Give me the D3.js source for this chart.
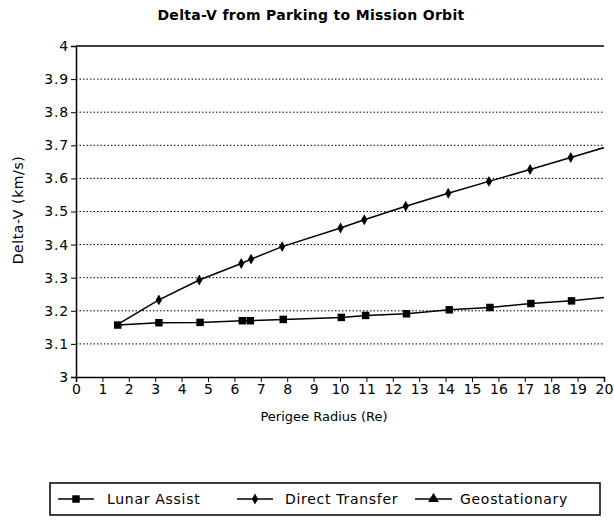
<!DOCTYPE html>
<html>
<head>
<meta charset="UTF-8">
<title>Delta-V</title>
<style>
  body { margin: 0; background: #fff; }
  text { font-family: "DejaVu Sans", Arial, sans-serif; fill: #000; }
</style>
</head>
<body>
<script src="https://d3js.org/d3.v7.min.js"></script>
<script>
// perigee radius (Re) and delta-v (km/s)
var lunarX = [1.58, 3.14, 4.7, 6.3, 6.6, 7.85, 10.05, 10.97, 12.52, 14.14, 15.68, 17.23, 18.77, 20.3];
var lunarY = [3.157, 3.164, 3.165, 3.170, 3.170, 3.174, 3.180, 3.186, 3.191, 3.203, 3.210, 3.222, 3.230, 3.243];
var directX = [1.58, 3.14, 4.67, 6.26, 6.63, 7.81, 10.02, 10.92, 12.49, 14.1, 15.64, 17.2, 18.74, 20.3];
var directY = [3.159, 3.233, 3.293, 3.343, 3.356, 3.394, 3.450, 3.475, 3.516, 3.555, 3.591, 3.627, 3.663, 3.700];
var markLast = 13; // last index drawn with a marker (the last point is off the axis)
var xTicks = d3.range(0, 21);
var yTicks = [3, 3.1, 3.2, 3.3, 3.4, 3.5, 3.6, 3.7, 3.8, 3.9, 4];
var legendNames = ["Lunar Assist", "Direct Transfer", "Geostationary"];

var W = 614, H = 521;
var svg = d3.select("body").append("svg").attr("width", W).attr("height", H);

var x = d3.scaleLinear().domain([0, 20]).range([76, 604]);
var y = d3.scaleLinear().domain([3, 4]).range([377, 46]);

svg.append("defs").append("clipPath").attr("id", "plot")
  .append("rect").attr("x", 76).attr("y", 40).attr("width", 528).attr("height", 340);

// title
svg.append("text").attr("x", 311).attr("y", 20).attr("text-anchor", "middle")
  .style("font-size", "14px").style("font-weight", "bold").style("letter-spacing", "0.3px")
  .text("Delta-V from Parking to Mission Orbit");

// gridlines
svg.append("g").selectAll("line")
  .data(yTicks.filter(function (d) { return d > 3 && d < 4; }))
  .enter().append("line")
  .attr("x1", x(0)).attr("x2", x(20))
  .attr("y1", function (d) { return y(d); }).attr("y2", function (d) { return y(d); })
  .attr("stroke", "#000").attr("stroke-width", 1).attr("stroke-dasharray", "1.5,2");

// top line
svg.append("line").attr("x1", x(0)).attr("x2", x(20)).attr("y1", y(4)).attr("y2", y(4))
  .attr("stroke", "#000").attr("stroke-width", 1.5);

// axes
var yAxis = d3.axisLeft(y).tickValues(yTicks).tickSize(5).tickPadding(2)
  .tickFormat(function (d) { return d === 3 || d === 4 ? d3.format("d")(d) : d3.format(".1f")(d); });
var gy = svg.append("g").attr("transform", "translate(" + x(0) + ",0)").call(yAxis);
var xAxis = d3.axisBottom(x).tickValues(xTicks).tickSize(5).tickPadding(2);
var gx = svg.append("g").attr("transform", "translate(0," + y(3) + ")").call(xAxis);
[gx, gy].forEach(function (g) {
  g.select(".domain").attr("stroke-width", 1.5);
  g.selectAll("text").style("font-size", "14px").style("font-family", "DejaVu Sans, Arial, sans-serif");
});
gy.selectAll("text").style("letter-spacing", "0.8px");

svg.append("text").attr("x", 324).attr("y", 421).attr("text-anchor", "middle")
  .style("font-size", "13px").text("Perigee Radius (Re)");
svg.append("text").attr("transform", "translate(23,210) rotate(-90)").attr("text-anchor", "middle")
  .style("font-size", "14px").style("letter-spacing", "0.6px").text("Delta-V (km/s)");

var line = d3.line().x(function (d) { return x(d[0]); }).y(function (d) { return y(d[1]); });
var lunar = d3.zip(lunarX, lunarY), direct = d3.zip(directX, directY);

var plot = svg.append("g").attr("clip-path", "url(#plot)");
plot.append("path").datum(direct).attr("d", line).attr("fill", "none").attr("stroke", "#000").attr("stroke-width", 1.5);
plot.append("path").datum(lunar).attr("d", line).attr("fill", "none").attr("stroke", "#000").attr("stroke-width", 1.5);

var sq = d3.symbol().type(d3.symbolSquare).size(56);
var dia = d3.symbol().type(d3.symbolDiamond).size(34);
plot.selectAll(".lm").data(lunar.slice(0, markLast)).enter().append("path")
  .attr("d", sq).attr("transform", function (d) { return "translate(" + x(d[0]) + "," + y(d[1]) + ")"; });
plot.selectAll(".dm").data(direct.slice(1, markLast)).enter().append("path")
  .attr("d", dia).attr("transform", function (d) { return "translate(" + x(d[0]) + "," + y(d[1]) + ")"; });

// legend
var lg = svg.append("g");
lg.append("rect").attr("x", 50).attr("y", 483).attr("width", 550).attr("height", 32)
  .attr("fill", "none").attr("stroke", "#000").attr("stroke-width", 1.5);
var items = [
  { sym: sq, x1: 58, x2: 94, label: legendNames[0], tx: 107 },
  { sym: dia, x1: 237, x2: 273, label: legendNames[1], tx: 285 },
  { sym: d3.symbol().type(d3.symbolTriangle).size(50), x1: 415, x2: 452, label: legendNames[2], tx: 460 }
];
items.forEach(function (it) {
  lg.append("line").attr("x1", it.x1).attr("x2", it.x2).attr("y1", 499).attr("y2", 499)
    .attr("stroke", "#000").attr("stroke-width", 1.5);
  lg.append("path").attr("d", it.sym).attr("transform", "translate(" + (it.x1 + it.x2) / 2 + ",499)");
  lg.append("text").attr("x", it.tx).attr("y", 504).style("font-size", "14px")
    .style("letter-spacing", "0.7px").text(it.label);
});
</script>
</body>
</html>
